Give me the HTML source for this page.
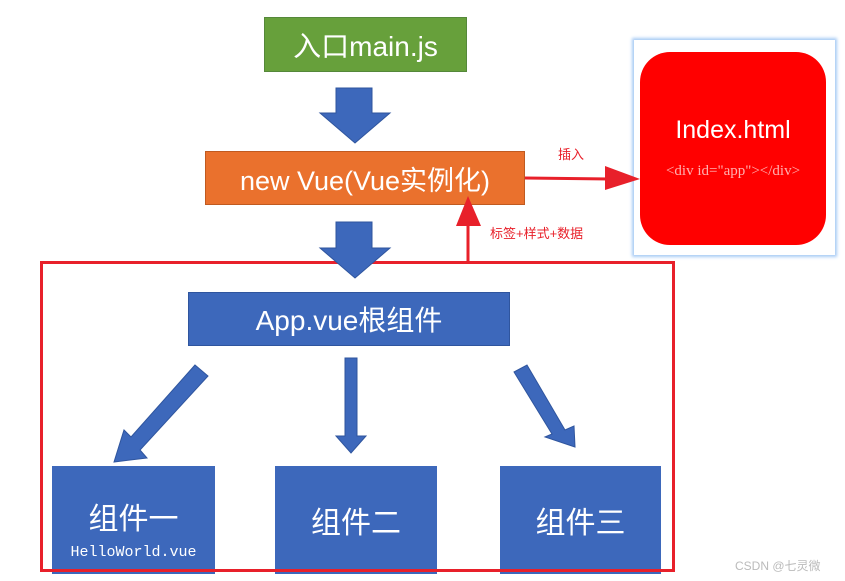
<!DOCTYPE html>
<html><head><meta charset="utf-8"><style>
body{margin:0;width:845px;height:581px;background:#fff;position:relative;overflow:hidden;font-family:"Liberation Sans","Noto Sans CJK SC",sans-serif}
.b{position:absolute;color:#fff;display:flex;align-items:center;justify-content:center;box-sizing:border-box}
</style></head><body>
<div class="b" style="left:264px;top:17px;width:203px;height:55px;background:#67a03b;border:1px solid #55883a;font-size:28px">入口main.js</div>
<div class="b" style="left:205px;top:151px;width:320px;height:54px;background:#ea712d;border:1px solid #c05a20;font-size:27px">new Vue(Vue实例化)</div>
<div style="position:absolute;left:634px;top:40px;width:201px;height:215px;background:#fff;box-shadow:0 0 3px 2px #a8ccf5"></div>
<div class="b" style="left:640px;top:52px;width:186px;height:193px;background:#ff0000;border-radius:30px;flex-direction:column">
<div style="font-size:25px;margin-top:-2px">Index.html</div>
<div style="font-family:'Liberation Serif',serif;font-size:15px;color:#ffb0b0;margin-top:18px">&lt;div id="app"&gt;&lt;/div&gt;</div></div>
<div class="b" style="left:188px;top:292px;width:322px;height:54px;background:#3d68bb;border:1px solid #2f559e;font-size:28px">App.vue根组件</div>
<div class="b" style="left:52px;top:466px;width:163px;height:108px;background:#3d68bb;font-size:30px;flex-direction:column"><div style="margin-top:14px">组件一</div><div style="font-family:'Liberation Mono',monospace;font-size:15px;margin-top:6px">HelloWorld.vue</div></div>
<div class="b" style="left:275px;top:466px;width:162px;height:108px;background:#3d68bb;font-size:30px">组件二</div>
<div class="b" style="left:500px;top:466px;width:161px;height:108px;background:#3d68bb;font-size:30px">组件三</div>
<div style="position:absolute;left:40px;top:261px;width:635px;height:311px;border:3px solid #e8202a;box-sizing:border-box"></div>
<svg width="845" height="581" style="position:absolute;left:0;top:0">
<g fill="#3d68bb" stroke="#2f559e" stroke-width="1">
<polygon points="336,88 372,88 372,113 390,113 355,143 320,113 336,113"/>
<polygon points="336,222 372,222 372,248 390,248 355,278 320,248 336,248"/>
<polygon points="345,358 357,358 357,436 366,436 351,453 336,436 345,436"/>
<polygon points="195,365 208,376 140,450 147,458 114,462 124,430 131,437"/>
<polygon points="514,372 527,365 565,430 574,426 575,447 545,437 552,434"/>
</g>
<g fill="#e8202a" stroke="#e8202a">
<line x1="525" y1="178" x2="610" y2="179" stroke-width="3"/>
<polygon points="605,166 640,179 605,190" stroke="none"/>
<line x1="468" y1="262" x2="468" y2="220" stroke-width="3"/>
<polygon points="456,226 468,196 481,226" stroke="none"/>
</g>
<text x="558" y="159" font-size="13" fill="#e8202a" font-family="Liberation Sans,Noto Sans CJK SC,sans-serif">插入</text>
<text x="490" y="238" font-size="13" fill="#e8202a" font-family="Liberation Sans,Noto Sans CJK SC,sans-serif">标签+样式+数据</text>
<text x="735" y="570" font-size="12" fill="#bbb" font-family="Liberation Sans,Noto Sans CJK SC,sans-serif">CSDN @七灵微</text>
</svg>
</body></html>
